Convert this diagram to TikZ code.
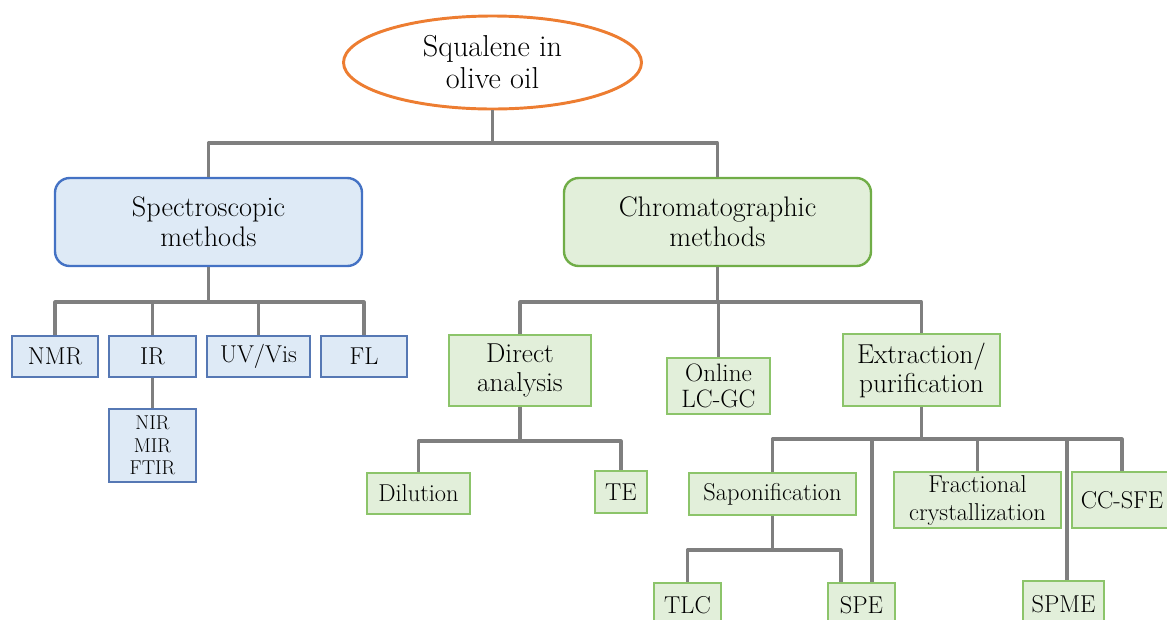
\documentclass[tikz,border=0pt]{standalone}
\usepackage{fontspec}
\usetikzlibrary{shapes.geometric}
\definecolor{lineg}{HTML}{7F7F7F}
\definecolor{orng}{HTML}{ED7D31}
\definecolor{bstroke}{HTML}{4472C4}
\definecolor{bstroke2}{HTML}{5678B4}
\definecolor{bfill}{HTML}{DEEAF6}
\definecolor{gstroke}{HTML}{70AD47}
\definecolor{gstroke2}{HTML}{8CC46A}
\definecolor{gfill}{HTML}{E2EFDA}
\tikzset{
  conn/.style={draw=lineg, line width=2.3pt, line join=round},
  rootnode/.style={ellipse, draw=orng, line width=2.2pt, fill=white, inner sep=0pt,
    minimum width=223.5pt, minimum height=69.75pt, align=center,
    font=\fontsize{22.7}{24}\selectfont},
  bigblue/.style={rectangle, rounded corners=11pt, draw=bstroke, line width=1.8pt, fill=bfill,
    inner sep=0pt, minimum width=230.25pt, minimum height=66pt, align=center,
    font=\fontsize{21.2}{22.5}\selectfont},
  biggreen/.style={bigblue, draw=gstroke, fill=gfill},
  sblue/.style={rectangle, draw=bstroke2, line width=1pt, fill=bfill, inner sep=0pt,
    align=center, font=\fontsize{18.3}{20}\selectfont},
  sgreen/.style={rectangle, draw=gstroke2, line width=1pt, fill=gfill, inner sep=0pt,
    align=center, font=\fontsize{18.3}{20}\selectfont},
  mgreen/.style={sgreen, font=\fontsize{20.5}{21.75}\selectfont},
}
\begin{document}
\begin{tikzpicture}[x=0.75pt, y=-0.75pt]
\useasboundingbox (0,0) rectangle (1167,619);
\clip (0,0) rectangle (1167,619);
% nodes
\node[rootnode] (root) at (492.5,62.5) {Squalene in\\olive oil};
\node[bigblue] (spec) at (208.5,222) {Spectroscopic\\methods};
\node[biggreen] (chrom) at (717.5,222) {Chromatographic\\methods};
\node[sblue, minimum width=64.5pt, minimum height=30.75pt] (nmr) at (55,356.5) {NMR};
\node[sblue, minimum width=65.25pt, minimum height=30.75pt] (ir) at (152.5,356.5) {IR};
\node[sblue, minimum width=77.25pt, minimum height=30.75pt] (uv) at (258.5,356.5) {UV/Vis};
\node[sblue, minimum width=64.5pt, minimum height=30.75pt] (fl) at (364,356.5) {FL};
\node[sblue, minimum width=65.25pt, minimum height=54.75pt, font=\fontsize{15}{17}\selectfont] (nir) at (152.5,445.5) {NIR\\MIR\\FTIR};
\node[mgreen, minimum width=106.5pt, minimum height=53.25pt] (direct) at (520,370.5) {Direct\\analysis};
\node[sgreen, minimum width=77.25pt, minimum height=42pt, font=\fontsize{18.9}{19}\selectfont] (online) at (718.5,386) {Online\\LC-GC};
\node[mgreen, minimum width=117.75pt, minimum height=54pt] (extr) at (921.5,370) {Extraction/\\purification};
\node[sgreen, minimum width=77.25pt, minimum height=30.75pt] (dil) at (418.5,493.5) {Dilution};
\node[sgreen, minimum width=39pt, minimum height=31.5pt] (te) at (621,492) {TE};
\node[sgreen, minimum width=125.25pt, minimum height=31.5pt] (sap) at (772.5,494) {Saponification};
\node[sgreen, minimum width=125.25pt, minimum height=42pt, font=\fontsize{18.3}{21}\selectfont] (frac) at (977.5,500) {Fractional\\crystallization};
\node[sgreen, minimum width=75pt, minimum height=42pt] (ccsfe) at (1122,500) {CC-SFE};
\node[sgreen, minimum width=50.25pt, minimum height=33.75pt] (tlc) at (687.5,605.5) {TLC};
\node[sgreen, minimum width=50.25pt, minimum height=33.75pt] (spe) at (861.5,605.5) {SPE};
\node[sgreen, minimum width=60.75pt, minimum height=35.25pt] (spme) at (1063.5,604.5) {SPME};
% junctions
\coordinate (j1) at (492.5,143);
\coordinate (j2) at (208.5,302);
\coordinate (j3) at (717.5,302);
\coordinate (j4) at (520,441);
\coordinate (j5) at (921.5,439);
\coordinate (j6) at (772.5,550);
\coordinate (k1) at (872,439);
\coordinate (k2) at (1067,439);
\coordinate (k3) at (841,550);
% connectors
\draw[conn] (root.south) -- (j1);
\draw[conn] (spec.north) |- (j1) -| (chrom.north);
\draw[conn] (spec.south) -- (j2);
\draw[conn] (nmr.north) |- (j2) -| (fl.north);
\draw[conn] (ir.north) -- (ir.north |- j2);
\draw[conn] (uv.north) -- (uv.north |- j2);
\draw[conn] (ir.south) -- (nir.north);
\draw[conn] (chrom.south) -- (j3);
\draw[conn] (direct.north) |- (j3) -| (extr.north);
\draw[conn] (online.north) -- (online.north |- j3);
\draw[conn] (direct.south) -- (j4);
\draw[conn] (dil.north) |- (j4) -| (te.north);
\draw[conn] (extr.south) -- (j5);
\draw[conn] (sap.north) |- (j5) -| (ccsfe.north);
\draw[conn] (frac.north) -- (frac.north |- j5);
\draw[conn] (k1) -- (k1 |- spe.north);
\draw[conn] (k2) -- (k2 |- spme.north);
\draw[conn] (sap.south) -- (j6);
\draw[conn] (tlc.north) |- (j6) -| (k3 |- spe.north);
\end{tikzpicture}
\end{document}
